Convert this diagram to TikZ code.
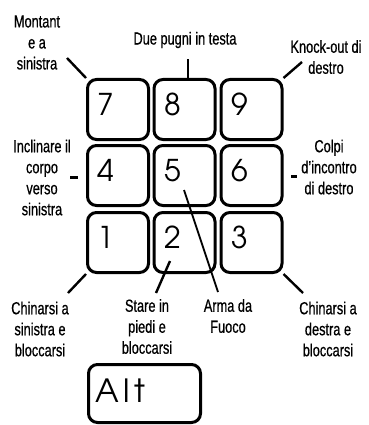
\documentclass[tikz,border=0pt]{standalone}
\usepackage{fontspec}
\setmainfont{Liberation Sans}
\newfontfamily\tagfont[FakeStretch=0.73,FakeBold=0.6]{Liberation Sans}
\newfontfamily\keyfont{texgyreadventor-regular.otf}
\newfontfamily\altfont[LetterSpace=14]{texgyreadventor-regular.otf}

\begin{document}
\begin{tikzpicture}[
            x=1pt,
            y=-1pt,
            key/.style={
                draw,
                line width=3pt,
                rounded corners=9pt,
                minimum width=61pt,
                minimum height=60pt,
                inner sep=0pt
            },
            digit/.style={
                font=\keyfont\fontsize{30}{30}\selectfont,
                inner sep=0pt
            },
            tag/.style={
                font=\tagfont\fontsize{17.5}{21}\selectfont,
                align=center,
                inner sep=0pt
            },
            pointer/.style={
                line width=2.4pt
            }
        ]
            \useasboundingbox (0,0) rectangle (368,425);

            % keypad
            \node[key] (k7) at (118,109.5) {};
            \node[key] (k8) at (184.5,109.5) {};
            \node[key] (k9) at (251.5,109.5) {};
            \node[key] (k4) at (118,175.5) {};
            \node[key] (k5) at (184.5,175.5) {};
            \node[key] (k6) at (251.5,175.5) {};
            \node[key] (k1) at (118,242.5) {};
            \node[key] (k2) at (184.5,242.5) {};
            \node[key] (k3) at (251.5,242.5) {};

            \node[digit] (d7) at ([xshift=-12pt,yshift=5pt]k7.center) {7};
            \node[digit] (d8) at ([xshift=-12pt,yshift=5pt]k8.center) {8};
            \node[digit] (d9) at ([xshift=-12pt,yshift=5pt]k9.center) {9};
            \node[digit] (d4) at ([xshift=-12pt,yshift=5pt]k4.center) {4};
            \node[digit] (d5) at ([xshift=-12pt,yshift=5pt]k5.center) {5};
            \node[digit] (d6) at ([xshift=-12pt,yshift=5pt]k6.center) {6};
            \node[digit] (d1) at ([xshift=-12pt,yshift=5pt]k1.center) {1};
            \node[digit] (d2) at ([xshift=-12pt,yshift=5pt]k2.center) {2};
            \node[digit] (d3) at ([xshift=-12pt,yshift=5pt]k3.center) {3};

            \node[key, minimum width=112pt, minimum height=58pt] (alt) at (144.5,393.5) {};
            \node[anchor=base west, inner sep=0pt, font=\altfont\fontsize{32}{32}\selectfont] (altt) at (95,402) {Alt};

            % labels
            \node[tag] (t7) at (37,42.5) {Montant\\e a\\sinistra};
            \node[tag] (t8) at (185,40) {Due pugni in testa};
            \node[tag] (t9) at (326,57) {Knock-out di\\destro};
            \node[tag] (t4) at (42,177.5) {Inclinare il\\corpo\\verso\\sinistra};
            \node[tag] (t6) at (329,167) {Colpi\\d’incontro\\di destro};
            \node[tag] (t1) at (40,329) {Chinarsi a\\sinistra e\\bloccarsi};
            \node[tag] (t2) at (147,326.5) {Stare in\\piedi e\\bloccarsi};
            \node[tag] (t5) at (228,316) {Arma da\\Fuoco};
            \node[tag] (t3) at (328,329) {Chinarsi a\\destra e\\bloccarsi};

            % pointers
            \coordinate (p7) at (67,58);
            \coordinate (p8) at (188,59);
            \coordinate (p9) at (302,62);
            \coordinate (p4) at (70,177);
            \coordinate (q4) at (78,177);
            \coordinate (p6) at (291,176);
            \coordinate (q6) at (297,176);
            \coordinate (p1) at (68,293);
            \coordinate (a2) at (170,261);
            \coordinate (p2) at (156,293);
            \coordinate (a5) at (184,190);
            \coordinate (p5) at (218,292);
            \coordinate (p3) at (303,293);

            \draw[pointer] (k7.north west)--(p7);
            \draw[pointer] (p8 |- k8.north)--(p8);
            \draw[pointer] (k9.north east)--(p9);
            \draw[pointer, line width=3pt] (p4)--(q4);
            \draw[pointer, line width=3pt] (p6)--(q6);
            \draw[pointer] (k1.south west)--(p1);
            \draw[pointer] (a2)--(p2);
            \draw[pointer, line width=1.8pt] (a5)--(p5);
            \draw[pointer] (k3.south east)--(p3);
        \end{tikzpicture}
\end{document}
